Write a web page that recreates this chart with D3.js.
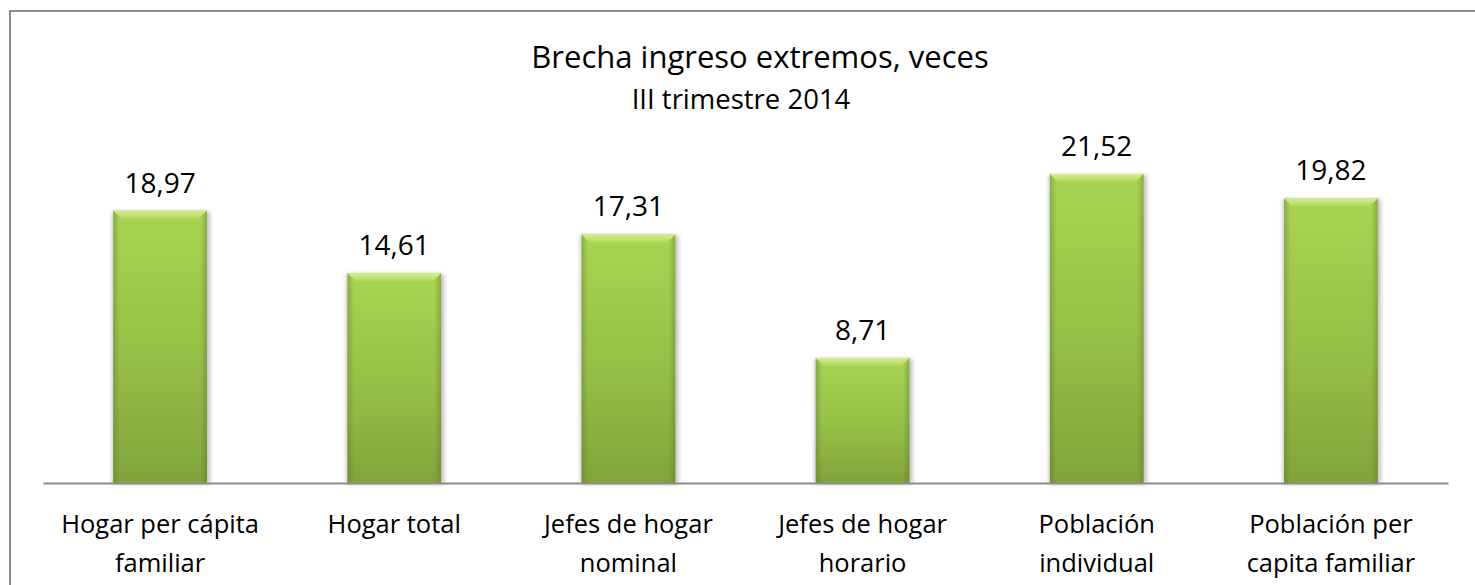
<!DOCTYPE html>
<html>
<head>
<meta charset="utf-8">
<script src="https://cdn.jsdelivr.net/npm/d3@7"></script>
<style>
  body { margin: 0; background: #fff; }
  text { font-family: "Open Sans", "Noto Sans", sans-serif; fill: #000; }
</style>
</head>
<body>
<svg width="1475" height="585"></svg>
<script>
(function (d3) {
    'use strict';
    const categories = [
        ['Hogar per cápita', 'familiar'],
        ['Hogar total'],
        ['Jefes de hogar', 'nominal'],
        ['Jefes de hogar', 'horario'],
        ['Población', 'individual'],
        ['Población per', 'capita familiar']
    ];
    const values = [18.97, 14.61, 17.31, 8.71, 21.52, 19.82];
    const title = 'Brecha ingreso extremos, veces';
    const subtitle = 'III trimestre 2014';

    const svg = d3.select('svg');
    const width = +svg.attr('width');
    const height = +svg.attr('height');
    const margin = { left: 43, right: 27, top: 174, bottom: 102 };
    const innerWidth = width - margin.left - margin.right;
    const innerHeight = height - margin.top - margin.bottom;

    const data = values.map((v, i) => ({ label: categories[i], value: v, key: 'c' + i }));

    // chart frame
    svg.append('rect')
        .attr('x', 10).attr('y', 11)
        .attr('width', width + 10).attr('height', height + 10)
        .attr('fill', 'none')
        .attr('stroke', '#8c8c8c')
        .attr('stroke-width', 2);

    const defs = svg.append('defs');
    const vg = defs.append('linearGradient').attr('id', 'barV')
        .attr('x1', 0).attr('y1', 0).attr('x2', 0).attr('y2', 1);
    vg.append('stop').attr('offset', '0%').attr('stop-color', '#a9d452');
    vg.append('stop').attr('offset', '55%').attr('stop-color', '#96bf47');
    vg.append('stop').attr('offset', '100%').attr('stop-color', '#80a43a');
    const hg = defs.append('linearGradient').attr('id', 'barH')
        .attr('x1', 0).attr('y1', 0).attr('x2', 1).attr('y2', 0);
    hg.append('stop').attr('offset', '0%').attr('stop-color', '#4f6b1c').attr('stop-opacity', 0.35);
    hg.append('stop').attr('offset', '7%').attr('stop-color', '#4f6b1c').attr('stop-opacity', 0);
    hg.append('stop').attr('offset', '93%').attr('stop-color', '#4f6b1c').attr('stop-opacity', 0);
    hg.append('stop').attr('offset', '100%').attr('stop-color', '#4f6b1c').attr('stop-opacity', 0.35);
    const tg = defs.append('linearGradient').attr('id', 'barTop')
        .attr('x1', 0).attr('y1', 0).attr('x2', 0).attr('y2', 1);
    tg.append('stop').attr('offset', '0%').attr('stop-color', '#d6ee92');
    tg.append('stop').attr('offset', '100%').attr('stop-color', '#afd85a');
    const blur = defs.append('filter').attr('id', 'shadow')
        .attr('x', '-10%').attr('y', '-10%').attr('width', '120%').attr('height', '120%');
    blur.append('feGaussianBlur').attr('stdDeviation', 2);

    const x = d3.scaleBand()
        .domain(data.map(d => d.key))
        .range([0, innerWidth])
        .paddingInner(0.6)
        .paddingOuter(0.3);

    const y = d3.scaleLinear()
        .domain([0, 21.52])
        .range([innerHeight, 0]);

    const g = svg.append('g')
        .attr('transform', `translate(${margin.left},${margin.top})`);

    // titles
    svg.append('text')
        .attr('x', 760).attr('y', 68)
        .attr('text-anchor', 'middle')
        .style('font-size', '31px')
        .text(title);
    svg.append('text')
        .attr('x', 741).attr('y', 109)
        .attr('text-anchor', 'middle')
        .style('font-size', '27.5px')
        .text(subtitle);

    const bars = g.selectAll('.bar').data(data).enter().append('g').attr('class', 'bar');

    bars.append('rect')
        .attr('x', d => x(d.key) - 1)
        .attr('y', d => y(d.value) + 1)
        .attr('width', x.bandwidth() + 4)
        .attr('height', d => innerHeight - y(d.value))
        .attr('fill', '#000')
        .attr('opacity', 0.25)
        .attr('filter', 'url(#shadow)');
    bars.append('rect')
        .attr('x', d => x(d.key))
        .attr('y', d => y(d.value))
        .attr('width', x.bandwidth())
        .attr('height', d => innerHeight - y(d.value))
        .attr('fill', 'url(#barV)');
    bars.append('rect')
        .attr('x', d => x(d.key))
        .attr('y', d => y(d.value))
        .attr('width', x.bandwidth())
        .attr('height', d => innerHeight - y(d.value))
        .attr('fill', 'url(#barH)');
    bars.append('path')
        .attr('d', d => {
            const x0 = x(d.key), x1 = x0 + x.bandwidth(), y0 = y(d.value);
            return `M${x0},${y0}L${x1},${y0}L${x1 - 8},${y0 + 8}L${x0 + 8},${y0 + 8}Z`;
        })
        .attr('fill', 'url(#barTop)');

    bars.append('text')
        .attr('x', d => x(d.key) + x.bandwidth() / 2)
        .attr('y', d => y(d.value) - 18)
        .attr('text-anchor', 'middle')
        .style('font-size', '28px')
        .text(d => d3.format('.2f')(d.value).replace('.', ','));

    const xAxis = g.append('g')
        .attr('transform', `translate(0,${innerHeight})`)
        .call(d3.axisBottom(x).tickSize(0).tickFormat(''));
    xAxis.select('.domain').attr('stroke', '#8c8c8c').attr('stroke-width', 2);

    bars.append('text')
        .attr('x', d => x(d.key) + x.bandwidth() / 2)
        .attr('y', innerHeight + 50)
        .attr('text-anchor', 'middle')
        .style('font-size', '25.5px')
        .selectAll('tspan').data(d => d.label).enter().append('tspan')
        .attr('x', function () { return d3.select(this.parentNode).attr('x'); })
        .attr('dy', (d, i) => i === 0 ? 0 : 39)
        .text(d => d);
}(d3));
</script>
</body>
</html>
